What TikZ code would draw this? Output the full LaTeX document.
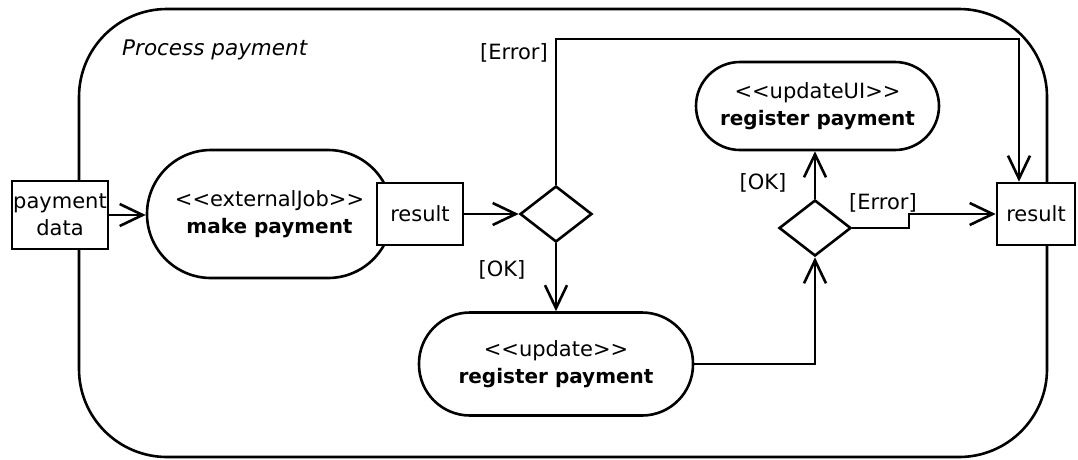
\documentclass[tikz,border=0pt]{standalone}
\usepackage{fontspec}
\setmainfont{DejaVu Sans}
\usetikzlibrary{shapes.geometric,arrows.meta}
\newcommand{\actname}[1]{{\fontsize{20}{27}\selectfont\bfseries #1}}
\begin{document}
\begin{tikzpicture}[x=1pt,y=-1pt,
  every node/.style={font=\fontsize{21}{27}\selectfont},
  ln/.style={line width=2.6pt},
  arr/.style={ln,-{Straight Barb[length=23pt,width=22pt]}},
  pinbox/.style={draw,ln,fill=white,rectangle,inner sep=0pt,align=center},
  actbox/.style={draw,ln,fill=white,rectangle,inner sep=0pt,align=center},
  dec/.style={draw,ln,fill=white,diamond,inner sep=0pt,minimum width=72pt,minimum height=56pt},
  lbl/.style={inner sep=0pt}]
\useasboundingbox (0,0) rectangle (1078,459);
% activity frame
\draw[ln,rounded corners=88pt] (79,9) rectangle (1047,457);
\node[lbl,font=\fontsize{21.5}{27}\selectfont\itshape,anchor=west] (title) at (122,50) {Process payment};
% nodes
\node[actbox,rounded corners=64pt,minimum width=245pt,minimum height=128pt] (mp) at (269.5,214) {<{}<externalJob>{}>\\\actname{make payment}};
\node[pinbox,minimum width=96pt,minimum height=68pt] (pd) at (60,215) {payment\\data};
\node[pinbox,minimum width=86pt,minimum height=62pt] (r1) at (420,214) {result};
\node[dec] (d1) at (556,214) {};
\node[actbox,rounded corners=51pt,minimum width=274pt,minimum height=103pt] (up) at (556,364) {<{}<update>{}>\\\actname{register payment}};
\node[dec] (d2) at (815,228) {};
\node[actbox,rounded corners=44pt,minimum width=243pt,minimum height=88pt] (ui) at (817.5,106) {<{}<updateUI>{}>\\\actname{register payment}};
\node[pinbox,minimum width=78pt,minimum height=62pt] (r2) at (1036,214) {result};
% coordinates
\coordinate (e1) at (1019,39);
\coordinate (s1) at (909,228);
\coordinate (s2) at (909,214);
% connectors
\draw[arr] (pd.east) -- (pd.east -| mp.west);
\draw[arr] (r1.east) -- (d1.west);
\draw[arr] (d1.north) |- (e1) -- (e1 |- r2.north);
\draw[arr] (d1.south) -- (up.north);
\draw[arr] (up.east) -| (d2.south);
\draw[arr] (d2.north) -- (d2.north |- ui.south);
\draw[arr] (d2.east) -- (s1) -- (s2) -- (r2.west);
% guard labels
\node[lbl] (g1) at (514,53) {[Error]};
\node[lbl] (g2) at (502,270) {[OK]};
\node[lbl] (g3) at (763,183) {[OK]};
\node[lbl] (g4) at (883,203) {[Error]};
\end{tikzpicture}
\end{document}
